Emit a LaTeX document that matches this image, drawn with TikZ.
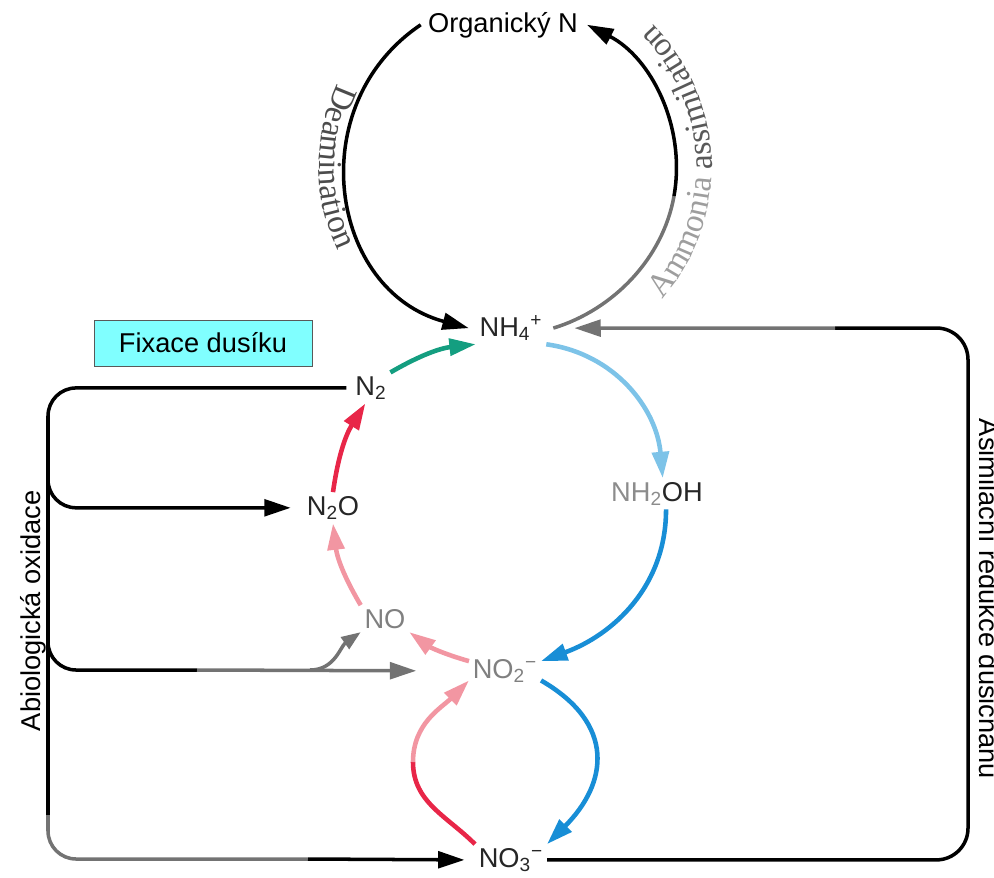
\documentclass[tikz,border=0pt]{standalone}
\usepackage{fontspec}
\setmainfont{Liberation Sans}
\newfontfamily\arcfont{Liberation Serif}
\usepackage{xcolor}
\definecolor{fixteal}{RGB}{20,158,128}
\definecolor{denred}{RGB}{232,38,72}
\definecolor{denpink}{RGB}{242,150,162}
\definecolor{nitlight}{RGB}{125,195,232}
\definecolor{nitblue}{RGB}{24,142,214}
\definecolor{boxcyan}{RGB}{128,255,255}
\newcommand{\arcstyle}{\arcfont\fontsize{19}{19}\selectfont}
\usepackage{tikz}
\usetikzlibrary{
    arrows.meta,
    positioning,
    decorations.text
}

\begin{document}
\begin{tikzpicture}[
    x=0.02cm, y=0.02cm,
    >={Triangle[length=15pt, width=9.5pt]},
    every node/.style={font=\fontsize{15.5}{18}\selectfont, inner sep=2pt},
    species/.style={anchor=base, text=black!85},
    faint/.style={species, text=black!50},
    blk/.style={draw=black, line width=2pt},
    gry/.style={draw=black!55, line width=2pt},
    flux/.style={line width=2.6pt, ->},
    fixbox/.style={draw=black!65, fill=boxcyan, minimum width=124pt, minimum height=26pt},
    arclabel/.style={decorate, decoration={text along path, text align=center}}
]
\useasboundingbox (0,0) rectangle (994,-877);

% ==================== SPECIES ====================
\node[species, text=black] (orgN) at (503,-32) {Organický N};
\node[species] (nh4) at (511,-336) {NH\textsubscript{4}\textsuperscript{+}};
\node[species] (n2) at (371,-395) {N\textsubscript{2}};
\node[species] (n2o) at (333,-515) {N\textsubscript{2}O};
\node[faint] (no) at (385,-628) {NO};
\node[faint] (no2) at (505,-678) {NO\textsubscript{2}\textsuperscript{−}};
\node[species] (nh2oh) at (657,-501) {\textcolor{black!45}{NH\textsubscript{2}}OH};
\node[species] (no3) at (511,-867) {NO\textsubscript{3}\textsuperscript{−}};

\node[fixbox] (fix) at (203,-343) {Fixace dusíku};
\node[rotate=90, anchor=base west] (abio) at (40,-735) {Abiologická oxidace};
\node[rotate=-90, anchor=base west] (asim) at (979,-415) {Asimilační redukce dusičnanů};

% ==================== ORGANIC N CYCLE ====================
\draw[blk, ->] ([xshift=-2pt]orgN.west) to[out=214, in=165, looseness=1.2] ([xshift=-4pt]nh4.west);
\coordinate (asmMid) at (674,-196);
\draw[gry] ([xshift=4pt]nh4.east) to[out=17, in=-100, looseness=0.9] (asmMid);
\draw[blk, ->] (asmMid) to[out=80, in=-27, looseness=0.95] ([xshift=3pt]orgN.east);

\path[arclabel, decoration={text={|\arcstyle\color{black!70}|Deamination}}]
    ([shift={(511,-167)}]150:192) arc[start angle=150, end angle=210, radius=192];
\path[arclabel, decoration={text={|\arcstyle\color{black!38}|Ammonia |\arcstyle\color{black!65}|assimilation}}]
    ([shift={(511,-167)}]-48:201) arc[start angle=-48, end angle=52, radius=201];

% ==================== DENITRIFICATION / FIXATION ====================
\draw[flux, fixteal] (n2.north east) to[bend left=12] (nh4.south west);
\draw[flux, denred] (n2o.north) to[bend left=12] (n2.250);
\draw[flux, denpink] (no.north west) to[bend left=12] (n2o.south);
\draw[flux, denpink] (no2.165) to[bend left=10] (no.south east);

% ==================== NITRIFICATION ====================
\draw[flux, nitlight] (nh4.south east) to[out=-8, in=95] (nh2oh.70);
\draw[flux, nitblue] (nh2oh.-60) to[out=-90, in=20] (no2.15);
\draw[flux, nitblue] (no2.-15) to[out=-30, in=45, looseness=1.35] (no3.north east);
\coordinate (loopL) at (413,-762);
\draw[line width=2.6pt, denred] (no3.north west) to[out=135, in=-90] (loopL);
\draw[flux, denpink] (loopL) to[out=90, in=225] (no2.195);

% ==================== ABIOTIC OXIDATION ====================
\coordinate (lgray) at (48,-815);
\coordinate (bgray) at (308,-859);
\draw[blk, rounded corners=16pt] ([xshift=-3pt]n2.west) -| (lgray);
\draw[gry, rounded corners=16pt] (lgray) |- (bgray);
\draw[blk, ->] (bgray) -- ([xshift=-6pt]no3.west);

\coordinate (brA) at (48,-470);
\draw[blk, ->, rounded corners=16pt] (brA) |- ([xshift=-7pt]n2o.west);

\coordinate (brB) at (48,-630);
\coordinate (mgray) at (197,-670);
\draw[blk, rounded corners=16pt] (brB) |- (mgray);
\draw[gry, ->] (mgray) -- ([xshift=-30pt]no2.west);
\coordinate (nobr) at (310,-670);
\draw[gry, -{Triangle[length=11pt, width=8pt]}] (nobr) to[out=0, in=215] (no.south west);

% ==================== ASSIMILATORY REDUCTION ====================
\coordinate (rtop) at (968,-328);
\coordinate (rgray) at (835,-328);
\draw[blk, rounded corners=18pt] (no3.east) -| (rtop) -- (rgray);
\draw[gry, ->] (rgray) -- ([xshift=16pt]nh4.east);

\end{tikzpicture}
\end{document}
